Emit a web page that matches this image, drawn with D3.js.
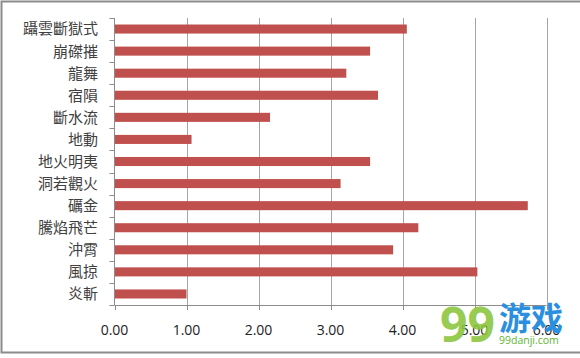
<!DOCTYPE html>
<html><head><meta charset="utf-8">
<script src="https://cdn.jsdelivr.net/npm/d3@7"></script>
<style>body{margin:0;background:#fff}svg{display:block}</style>
</head><body>
<script>
const categories = ["躡雲斷獄式","崩磔摧","龍舞","宿隕","斷水流","地動","地火明夷","洞若觀火","礪金","騰焰飛芒","沖霄","風掠","炎斬"];
const values = [4.06,3.55,3.22,3.66,2.16,1.07,3.55,3.14,5.74,4.22,3.87,5.04,1.00];
const xTicks = [0,1,2,3,4,5,6];

const W=580,H=358;
const svg=d3.select("body").append("svg").attr("width",W).attr("height",H);
svg.append("rect").attr("width",W).attr("height",H).attr("fill","#fff");
// outer border
svg.append("path").attr("d",`M${W},1.5 H1.5 V352.5 H${W}`).attr("fill","none").attr("stroke","#8c8c8c").attr("stroke-width",2);

const m={l:114.5,r:546.5,t:18,b:305};
const x=d3.scaleLinear().domain([0,6]).range([m.l,m.r]);
const y=d3.scaleBand().domain(categories).range([m.t,m.b]).paddingInner(0.59).paddingOuter(0.295);

// gridlines
svg.append("g").selectAll("line").data(xTicks.slice(1)).join("line")
 .attr("x1",d=>Math.round(x(d))+0.5).attr("x2",d=>Math.round(x(d))+0.5)
 .attr("y1",m.t).attr("y2",m.b).attr("stroke","#a6a6a6").attr("stroke-width",1);

// bars
svg.append("g").selectAll("rect").data(categories).join("rect")
 .attr("x",x(0)).attr("y",d=>y(d)).attr("height",y.bandwidth())
 .attr("width",(d,i)=>x(values[i])-x(0)).attr("fill","#c0504d");

// left axis
const step=(m.b-m.t)/categories.length;
const lg=svg.append("g");
lg.append("line").attr("x1",m.l).attr("x2",m.l).attr("y1",m.t).attr("y2",m.b).attr("stroke","#8c8c8c");
lg.selectAll("line.t").data(d3.range(categories.length+1)).join("line").attr("class","t")
 .attr("x1",m.l-5).attr("x2",m.l).attr("y1",i=>Math.round(m.t+i*step)+0.5).attr("y2",i=>Math.round(m.t+i*step)+0.5).attr("stroke","#8c8c8c");
lg.selectAll("text").data(categories).join("text")
 .attr("x",98).attr("y",d=>y(d)+y.bandwidth()/2).attr("dy","0.36em")
 .attr("text-anchor","end").attr("font-family","'Noto Sans CJK TC','Noto Sans CJK SC',sans-serif")
 .attr("font-size",15).attr("fill","#404040").text(d=>d);

// bottom axis
const bg=svg.append("g");
bg.append("line").attr("x1",m.l).attr("x2",m.r).attr("y1",m.b+0.5).attr("y2",m.b+0.5).attr("stroke","#8c8c8c");
bg.selectAll("line.t").data(xTicks).join("line").attr("class","t")
 .attr("x1",d=>Math.round(x(d))+0.5).attr("x2",d=>Math.round(x(d))+0.5).attr("y1",m.b).attr("y2",m.b+5).attr("stroke","#8c8c8c");
bg.selectAll("text").data(xTicks).join("text")
 .attr("x",d=>x(d)).attr("y",335).attr("text-anchor","middle")
 .attr("font-family","'Open Sans',sans-serif").attr("font-size",14).attr("fill","#222")
 .text(d=>d3.format(".2f")(d));

// watermark
const wm=svg.append("g");
wm.append("text").attr("x",440).attr("y",342).attr("font-family","'Open Sans',sans-serif").attr("font-weight","bold")
 .attr("font-size",48).attr("fill","#8cc63f").attr("opacity",0.9).text("99");
wm.append("text").attr("x",499).attr("y",330).attr("font-family","'Noto Sans CJK SC',sans-serif").attr("font-weight","bold")
 .attr("font-size",32).attr("fill","#2b8fe0").text("游戏");
wm.append("text").attr("x",499).attr("y",344).attr("font-family","'Open Sans',sans-serif")
 .attr("font-size",10.5).attr("fill","#5cb531").text("99danji.com");
</script>
</body></html>
